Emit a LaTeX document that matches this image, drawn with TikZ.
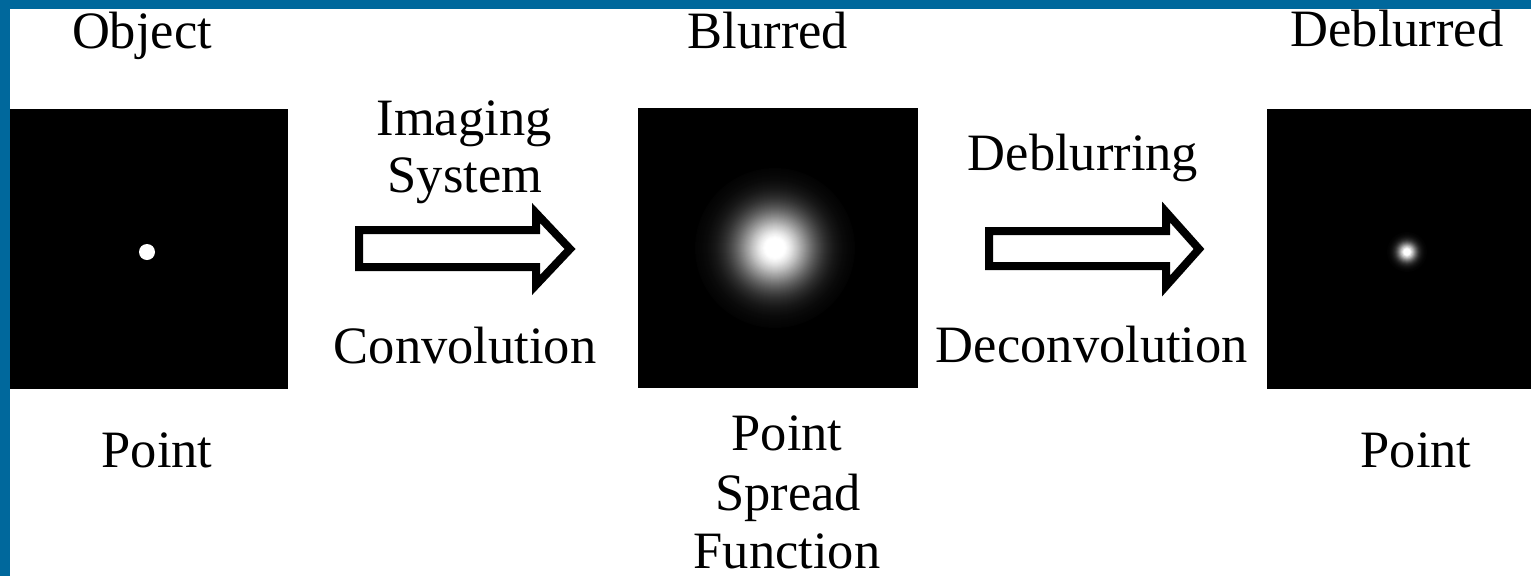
\documentclass[tikz,border=0pt]{standalone}
\usepackage{fontspec}
\setmainfont{Liberation Serif}
\definecolor{frameblue}{RGB}{0,104,156}
\begin{document}
\begin{tikzpicture}[x=1pt,y=-1pt,
  lbl/.style={inner sep=0pt, anchor=base, font=\fontsize{52.5}{60}\selectfont},
  imgbox/.style={fill=black, draw=none, inner sep=0pt, anchor=north west},
  blockarrow/.style={draw=black, line width=8pt, fill=white, miter limit=10, line join=miter}]
\useasboundingbox (0,0) rectangle (1531,576);
\fill[white] (0,0) rectangle (1531,576);
% image squares
\node[imgbox, minimum width=278pt, minimum height=280pt] (objimg) at (10,109) {};
\node[imgbox, minimum width=280pt, minimum height=280pt] (blurimg) at (638,108) {};
\node[imgbox, minimum width=264pt, minimum height=280pt] (deblimg) at (1267,109) {};
% spots
\fill[white] (147,252) circle (8);
\foreach \r in {80,79,...,1} {
  \pgfmathsetmacro\g{min(100,108*exp(-(\r*\r)/(2*27*27)))}
  \fill[white!\g!black] (775,248) circle (\r);
}
\foreach \r in {20,19.5,...,0.5} {
  \pgfmathsetmacro\g{min(100,115*exp(-(\r*\r)/(2*6.5*6.5)))}
  \fill[white!\g!black] (1407,252) circle (\r);
}
% block arrows
\draw[blockarrow] (359,230) -- (536,230) -- (536,213) -- (570,249) -- (536,285) -- (536,267) -- (359,267) -- cycle;
\draw[blockarrow] (989,231) -- (1166,231) -- (1166,212) -- (1199,249) -- (1166,286) -- (1166,266) -- (989,266) -- cycle;
% labels
\node[lbl] (tobj) at (142,48) {Object};
\node[lbl] (tblur) at (768,48) {Blurred};
\node[lbl] (tdebl) at (1397,46) {Deblurred};
\node[lbl] (timg) at (464,135) {Imaging};
\node[lbl] (tsys) at (465,192) {System};
\node[lbl] (tconv) at (465,363) {Convolution};
\node[lbl] (tdeb) at (1083,170) {Deblurring};
\node[lbl] (tdeconv) at (1092,362) {Deconvolution};
\node[lbl] (tp1) at (157,467) {Point};
\node[lbl] (tp2) at (787,450) {Point};
\node[lbl] (tspr) at (788,510) {Spread};
\node[lbl] (tfun) at (787,568) {Function};
\node[lbl] (tp3) at (1416,467) {Point};
% frame
\fill[frameblue] (0,0) rectangle (1531,9);
\fill[frameblue] (0,0) rectangle (10,576);
\end{tikzpicture}
\end{document}
